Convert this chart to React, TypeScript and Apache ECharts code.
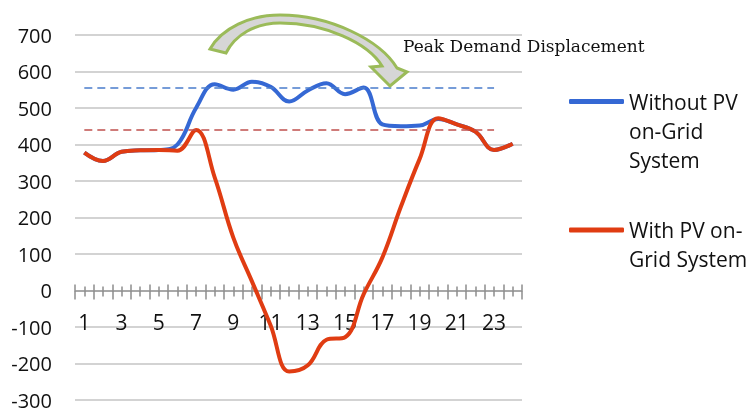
import React, { useEffect, useRef } from 'react';
import * as echarts from 'echarts';

const hours = ['1','2','3','4','5','6','7','8','9','10','11','12','13','14','15','16','17','18','19','20','21','22','23','24'];
const withoutPV = [378, 355, 380, 384, 385, 400, 500, 565, 550, 572, 558, 518, 548, 568, 538, 556, 455, 450, 452, 470, 455, 435, 385, 402];
const withPV = [378, 355, 380, 384, 385, 383, 440, 310, 145, 25, -95, -222, -205, -135, -128, -10, 90, 230, 360, 472, 455, 435, 385, 402];
const withoutPVPeak = 555;
const withPVPeak = 441;
const yMin = -300;
const yMax = 700;
const yStep = 100;
const seriesNames = ['Without PV on-Grid System', 'With PV on-Grid System'];
const legendLines = [['Without PV', 'on-Grid', 'System'], ['With PV on-', 'Grid System']];
const annotation = 'Peak Demand Displacement';

const ARROW_D =
  'M210 49 C222 28 250 15 280 15 C330 15 380 40 397 68 L407 72 L390 86 L371 67 L382 66 C368 43 325 23 280 23 C255 23 235 35 226 53 Z';
echarts.graphic.registerShape('peakArrow', echarts.graphic.extendPath(ARROW_D, {}));

const FONT = '"Open Sans", sans-serif';
const BLUE = '#3568d4';
const RED = '#e03c12';

const GRID_TOP = 35;
const GRID_BOTTOM = 9;
const CHART_H = 409;
const LEGEND_LH = 29;

// Legend text: leading blank lines so the first text line sits level with the icon.
const legendText = (lines: string[]) => '\n'.repeat(lines.length - 1) + lines.join('\n');

export default function App() {
  const ref = useRef<HTMLDivElement>(null);
  useEffect(() => {
    if (!ref.current) return;
    const chart = echarts.init(ref.current, undefined, { renderer: 'svg' });
    const tickColor = '#8c8c8c';
    const plotH = CHART_H - GRID_TOP - GRID_BOTTOM;
    const zeroY = GRID_TOP + (yMax / (yMax - yMin)) * plotH;
    const extraAxis = (alignWithLabel: boolean, inside: boolean, length: number) => ({
      type: 'category',
      gridIndex: 0,
      data: hours,
      position: 'bottom',
      boundaryGap: true,
      axisLine: { show: false, onZero: true, onZeroAxisIndex: 0 },
      axisTick: { show: true, interval: 0, alignWithLabel, inside, length, lineStyle: { color: tickColor, width: 1.5 } },
      axisLabel: { show: false },
      splitLine: { show: false },
    });
    const legendBase = {
      orient: 'vertical',
      left: 569,
      padding: 0,
      itemWidth: 55,
      itemHeight: 5,
      icon: 'roundRect',
      selectedMode: false,
    };
    const legendTextStyle = { fontSize: 21, lineHeight: LEGEND_LH, fontFamily: FONT, color: '#111' };
    const iconY = [101.5, 230];
    chart.setOption({
      animation: false,
      grid: [
        { left: 75, right: 225, top: GRID_TOP, bottom: GRID_BOTTOM, containLabel: false, outerBoundsMode: 'none' },
        { left: 75, right: 225, top: GRID_TOP, bottom: CHART_H - zeroY, containLabel: false, outerBoundsMode: 'none' },
      ],
      xAxis: [
        {
          type: 'category',
          gridIndex: 0,
          data: hours,
          position: 'bottom',
          boundaryGap: true,
          axisLine: { show: true, onZero: true, onZeroAxisIndex: 0, lineStyle: { color: '#9a9a9a', width: 1.5 } },
          axisTick: { show: true, interval: 0, length: 9, lineStyle: { color: tickColor, width: 1.5 } },
          axisLabel: { show: false },
          splitLine: { show: false },
        },
        extraAxis(false, true, 6),
        extraAxis(true, false, 6),
        extraAxis(true, true, 4),
        {
          type: 'category',
          gridIndex: 1,
          data: hours,
          position: 'bottom',
          boundaryGap: true,
          axisLine: { show: false, onZero: false },
          axisTick: { show: false },
          axisLabel: { interval: 1, margin: 21, fontSize: 21, fontFamily: FONT, color: '#111' },
          splitLine: { show: false },
        },
      ],
      yAxis: [
        {
          type: 'value',
          gridIndex: 0,
          min: yMin,
          max: yMax,
          interval: yStep,
          axisLine: { show: false },
          axisTick: { show: false },
          axisLabel: { margin: 23, fontSize: 20, lineHeight: 14, fontFamily: FONT, color: '#111' },
          splitLine: { lineStyle: { color: '#c4c4c4', width: 1.5 } },
        },
        {
          type: 'value',
          gridIndex: 1,
          min: 0,
          max: 1,
          show: false,
          splitLine: { show: false },
        },
      ],
      legend: legendLines.map((lines, i) => ({
        ...legendBase,
        top: iconY[i] - ((2 * lines.length - 1) * LEGEND_LH) / 2,
        data: [seriesNames[i]],
        formatter: () => legendText(lines),
        textStyle: legendTextStyle,
      })),
      series: [
        {
          name: seriesNames[0],
          type: 'line',
          xAxisIndex: 0,
          yAxisIndex: 0,
          data: withoutPV,
          smooth: 0.4,
          symbol: 'none',
          lineStyle: { color: BLUE, width: 4 },
          itemStyle: { color: BLUE },
          z: 3,
          markLine: {
            silent: true,
            symbol: 'none',
            label: { show: false },
            lineStyle: { color: '#4a7ccc', width: 1.5, type: [8, 5] },
            data: [[{ coord: [hours[0], withoutPVPeak] }, { coord: [hours[22], withoutPVPeak] }]],
          },
        },
        {
          name: seriesNames[1],
          type: 'line',
          xAxisIndex: 0,
          yAxisIndex: 0,
          data: withPV,
          smooth: 0.4,
          symbol: 'none',
          lineStyle: { color: RED, width: 4 },
          itemStyle: { color: RED },
          z: 4,
          markLine: {
            silent: true,
            symbol: 'none',
            label: { show: false },
            lineStyle: { color: '#c0504d', width: 1.5, type: [8, 5] },
            data: [[{ coord: [hours[0], withPVPeak] }, { coord: [hours[22], withPVPeak] }]],
          },
        },
      ],
      graphic: [
        {
          type: 'peakArrow',
          x: 0,
          y: 0,
          z: 10,
          style: { fill: '#d6d6d6', stroke: '#9bbb59', lineWidth: 3 },
        },
        {
          type: 'text',
          x: 403,
          y: 46,
          z: 10,
          style: { text: annotation, font: '17px "DejaVu Serif", serif', fill: '#111', verticalAlign: 'middle' },
        },
      ],
    });
    return () => chart.dispose();
  }, []);
  return <div ref={ref} style={{ position: 'fixed', left: 0, top: 0, width: 747, height: 409 }} />;
}
